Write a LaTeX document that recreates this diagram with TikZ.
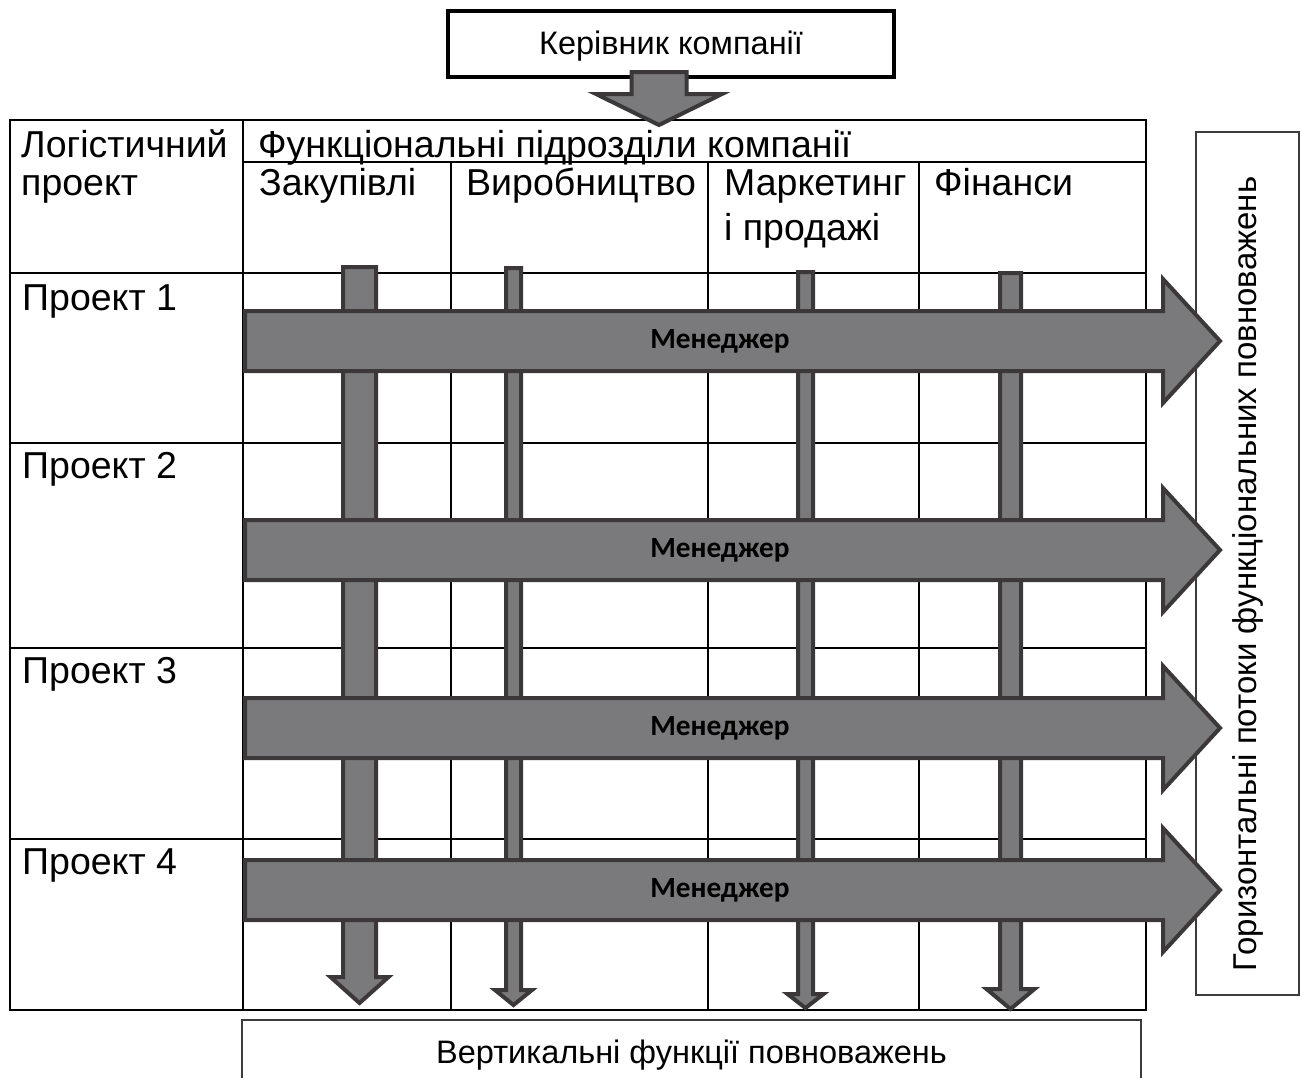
\documentclass[tikz,border=0pt]{standalone}
\usepackage{fontspec}
\setmainfont{Liberation Sans}
\newfontfamily\mgrfont{Carlito}
\definecolor{arrowfill}{RGB}{122,122,124}
\definecolor{arrowedge}{RGB}{60,56,57}
\definecolor{boxedge}{RGB}{60,60,60}

% horizontal flow arrow: #1 = name, #2 = centre line
\newcommand\hflow[2]{%
  \draw[flowarrow] (245,{#2-30}) -- (1163,{#2-30}) -- (1163,{#2-62}) -- (1220,#2)
    -- (1163,{#2+62}) -- (1163,{#2+30}) -- (245,{#2+30}) -- cycle;
  \node[mgrlabel] (#1) at (720,#2) {Менеджер};}
% vertical flow arrow: centre x, shaft half width, head half width, top, head base, tip
\newcommand\vflow[6]{%
  \draw[flowarrow] ({#1-#2},#4) -- ({#1+#2},#4) -- ({#1+#2},#5) -- ({#1+#3},#5)
    -- (#1,#6) -- ({#1-#3},#5) -- ({#1-#2},#5) -- cycle;}

\tikzset{
  gridline/.style={line width=2.2pt, black},
  flowarrow/.style={fill=arrowfill, draw=arrowedge, line width=4pt, line join=miter},
  mgrlabel/.style={font=\mgrfont\bfseries\fontsize{29.3}{32}\selectfont, inner sep=0pt},
  cell/.style={font=\fontsize{37.5}{40}\selectfont, anchor=base west, inner sep=0pt},
  sidetext/.style={font=\fontsize{33}{36}\selectfont, inner sep=0pt},
}

\begin{document}
\begin{tikzpicture}[x=1pt, y=-1pt]
\useasboundingbox (0,0) rectangle (1302,1077);

% table grid
\draw[gridline] (10,120) rectangle (1146,1010);
\draw[gridline] (243,120) -- (243,1010);
\draw[gridline] (243,162) -- (1146,162);
\foreach \cx in {451,708,919} \draw[gridline] (\cx,162) -- (\cx,1010);
\foreach \ry in {273,443,648,839} \draw[gridline] (10,\ry) -- (1146,\ry);

% side and bottom captions
\draw[boxedge, line width=1.6pt] (1196,132) rectangle (1299,995);
\node[sidetext, rotate=90] (horiz) at (1247.5,574) {Горизонтальні потоки функціональних повноважень};
\draw[boxedge, line width=1.6pt] (242,1020) rectangle (1141,1090);
\node[sidetext, font=\fontsize{32.5}{35}\selectfont, anchor=base] (vert) at (691.5,1063) {Вертикальні функції повноважень};

% head of the company
\draw[black, line width=3.2pt, fill=white] (448,11) rectangle (894,77);
\node[sidetext, font=\fontsize{32.5}{35}\selectfont] (head) at (671,46) {Керівник компанії};

% header cells
\node[cell] (logist) at (21,157) {Логістичний};
\node[cell] (proj) at (21,195) {проект};
\node[cell] (func) at (258,157) {Функціональні підрозділи компанії};
\node[cell] (buy) at (259,195) {Закупівлі};
\node[cell] (prod) at (466,195) {Виробництво};
\node[cell] (mkt) at (724,195) {Маркетинг};
\node[cell] (sale) at (724,240) {і продажі};
\node[cell] (fin) at (934,195) {Фінанси};

% project rows
\node[cell] (p1) at (22,310) {Проект 1};
\node[cell] (p2) at (22,478) {Проект 2};
\node[cell] (p3) at (22,683) {Проект 3};
\node[cell] (p4) at (22,874) {Проект 4};

% vertical functional arrows
\vflow{359.5}{16.5}{29}{267}{977}{1003}
\vflow{513.5}{7.5}{18.5}{268}{990}{1005}
\vflow{805.5}{7.5}{18}{272}{994}{1008}
\vflow{1010.5}{10.5}{24}{273}{989}{1009}

% horizontal project arrows
\hflow{m1}{341}
\hflow{m2}{550}
\hflow{m3}{728}
\hflow{m4}{890}

% arrow from the head of the company
\vflow{659}{27.5}{63}{72}{94}{125}
\end{tikzpicture}
\end{document}
